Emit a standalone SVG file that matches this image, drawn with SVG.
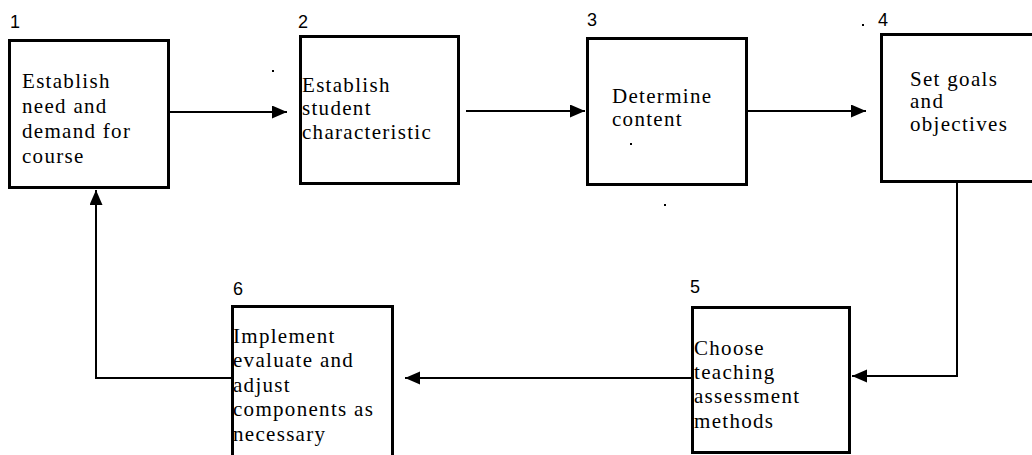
<svg xmlns="http://www.w3.org/2000/svg" width="1032" height="455" viewBox="0 0 1032 455">
  <style>
    .box { fill: #ffffff; stroke: #000000; stroke-width: 3; }
    .label { font-family: "Liberation Serif", "Times New Roman", serif; font-size: 21px; letter-spacing: 1.3px; fill: #000000; }
    .num { font-family: "Liberation Sans", Arial, sans-serif; font-size: 18px; fill: #000000; }
    .conn { fill: none; stroke: #000000; stroke-width: 2; marker-end: url(#arrow); }
    .speck { fill: #000000; }
  </style>
  <defs>
    <marker id="arrow" markerUnits="userSpaceOnUse" markerWidth="16" markerHeight="14" refX="15" refY="6.5" orient="auto">
      <path d="M0,0 L15,6.5 L0,13 Z" fill="#000000"/>
    </marker>
  </defs>

  <rect width="1032" height="455" fill="#ffffff"/>

  <!-- connectors between the steps -->
  <g id="connectors">
    <path class="conn" d="M170,112 H287"/>
    <path class="conn" d="M466,111 H585"/>
    <path class="conn" d="M748,111 H866"/>
    <path class="conn" d="M957,182 V376 H852"/>
    <path class="conn" d="M692,378 H405"/>
    <path class="conn" d="M232,378 H96 V190"/>
  </g>

  <g id="step1">
    <text class="num" x="10" y="28">1</text>
    <rect class="box" x="9.5" y="40.5" width="159" height="147"/>
    <text class="label" x="22" y="88">Establish</text>
    <text class="label" x="22" y="113">need and</text>
    <text class="label" x="22" y="138">demand for</text>
    <text class="label" x="22" y="163">course</text>
  </g>

  <g id="step2">
    <text class="num" x="298" y="28">2</text>
    <rect class="box" x="300.5" y="36.5" width="158" height="147"/>
    <text class="label" x="302" y="92">Establish</text>
    <text class="label" x="302" y="115">student</text>
    <text class="label" x="302" y="139">characteristic</text>
  </g>

  <g id="step3">
    <text class="num" x="587" y="26">3</text>
    <rect class="box" x="587.5" y="38.5" width="159" height="146"/>
    <text class="label" x="612" y="103">Determine</text>
    <text class="label" x="612" y="126">content</text>
  </g>

  <g id="step4">
    <text class="num" x="878" y="26">4</text>
    <rect class="box" x="881.5" y="34.5" width="160" height="147"/>
    <text class="label" x="910" y="86">Set goals</text>
    <text class="label" x="910" y="108">and</text>
    <text class="label" x="910" y="131">objectives</text>
  </g>

  <g id="step5">
    <text class="num" x="690" y="293">5</text>
    <rect class="box" x="692.5" y="307.5" width="157" height="145"/>
    <text class="label" x="694" y="355">Choose</text>
    <text class="label" x="694" y="379">teaching</text>
    <text class="label" x="694" y="403">assessment</text>
    <text class="label" x="694" y="428">methods</text>
  </g>

  <g id="step6">
    <text class="num" x="233" y="295">6</text>
    <rect class="box" x="232.5" y="306.5" width="160" height="152"/>
    <text class="label" x="233" y="343">Implement</text>
    <text class="label" x="233" y="367">evaluate and</text>
    <text class="label" x="233" y="392">adjust</text>
    <text class="label" x="233" y="416">components as</text>
    <text class="label" x="233" y="441">necessary</text>
  </g>

  <!-- small stray marks -->
  <g id="specks">
    <rect class="speck" x="272" y="70" width="2" height="2"/>
    <rect class="speck" x="630" y="143" width="2" height="2"/>
    <rect class="speck" x="664" y="204" width="2" height="2"/>
    <rect class="speck" x="862" y="24" width="2" height="2"/>
  </g>
</svg>
